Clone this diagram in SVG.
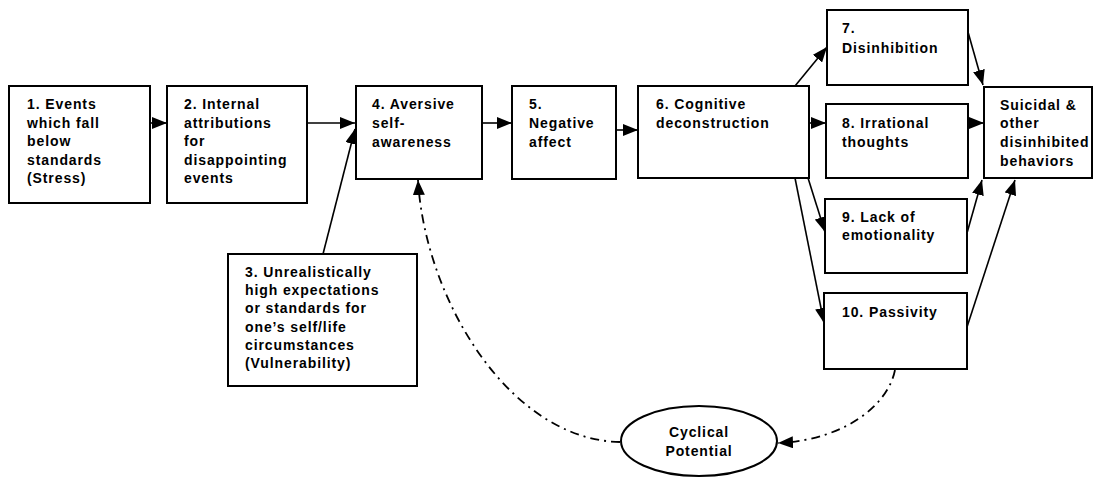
<svg xmlns="http://www.w3.org/2000/svg" width="1098" height="478" viewBox="0 0 1098 478">
<style>
.box{fill:#fff;stroke:#000;stroke-width:2}
.t{font-family:"Liberation Sans",Arial,sans-serif;font-weight:bold;font-size:14px;letter-spacing:0.9px;fill:#000}
.c{stroke:#000;stroke-width:1.6;fill:none}
.dd{stroke:#000;stroke-width:1.8;fill:none;stroke-dasharray:9 5 2 5}
</style>
<defs>
<marker id="ah" markerUnits="userSpaceOnUse" markerWidth="16" markerHeight="12" viewBox="0 0 16 12" refX="15" refY="6" orient="auto">
<path d="M0,0 L15,6 L0,12 Z" fill="#000"/>
</marker>
</defs>
<rect width="1098" height="478" fill="#fff"/>
<g id="connectors">
<line class="c" x1="150" y1="123" x2="167" y2="123" marker-end="url(#ah)"/>
<line class="c" x1="307" y1="123" x2="355" y2="123" marker-end="url(#ah)"/>
<line class="c" x1="323" y1="254" x2="355" y2="129" marker-end="url(#ah)"/>
<line class="c" x1="482" y1="123" x2="512" y2="123" marker-end="url(#ah)"/>
<line class="c" x1="616" y1="130" x2="638" y2="130" marker-end="url(#ah)"/>
<line class="c" x1="795" y1="86" x2="827" y2="47" marker-end="url(#ah)"/>
<line class="c" x1="809" y1="123" x2="826" y2="123" marker-end="url(#ah)"/>
<line class="c" x1="808" y1="178" x2="825" y2="232" marker-end="url(#ah)"/>
<line class="c" x1="795" y1="178" x2="824" y2="323" marker-end="url(#ah)"/>
<line class="c" x1="968" y1="32" x2="983" y2="85" marker-end="url(#ah)"/>
<line class="c" x1="968" y1="123" x2="984" y2="123" marker-end="url(#ah)"/>
<line class="c" x1="967" y1="233" x2="982" y2="180" marker-end="url(#ah)"/>
<line class="c" x1="967" y1="327" x2="1015" y2="180" marker-end="url(#ah)"/>
<path class="dd" d="M895,370 C888,405 845,440 778,443" marker-end="url(#ah)"/>
<path class="dd" d="M620,442 C510,440 425,300 418,180" marker-end="url(#ah)"/>
</g>
<g id="n1"><rect class="box" x="9" y="86" width="141" height="117"/>
<text class="t"><tspan x="27" y="109">1. Events</tspan><tspan x="27" y="128">which fall</tspan><tspan x="27" y="146">below</tspan><tspan x="27" y="165">standards</tspan><tspan x="27" y="183">(Stress)</tspan></text></g>
<g id="n2"><rect class="box" x="167" y="86" width="140" height="117"/>
<text class="t"><tspan x="184" y="109">2. Internal</tspan><tspan x="184" y="128">attributions</tspan><tspan x="184" y="146">for</tspan><tspan x="184" y="165">disappointing</tspan><tspan x="184" y="183">events</tspan></text></g>
<g id="n3"><rect class="box" x="228" y="254" width="189" height="132"/>
<text class="t"><tspan x="245" y="277">3. Unrealistically</tspan><tspan x="245" y="295">high expectations</tspan><tspan x="245" y="313">or standards for</tspan><tspan x="245" y="332">one’s self/life</tspan><tspan x="245" y="350">circumstances</tspan><tspan x="245" y="368">(Vulnerability)</tspan></text></g>
<g id="n4"><rect class="box" x="356" y="86" width="126" height="93"/>
<text class="t"><tspan x="372" y="109">4. Aversive</tspan><tspan x="372" y="128">self-</tspan><tspan x="372" y="147">awareness</tspan></text></g>
<g id="n5"><rect class="box" x="512" y="86" width="104" height="93"/>
<text class="t"><tspan x="529" y="109">5.</tspan><tspan x="529" y="128">Negative</tspan><tspan x="529" y="147">affect</tspan></text></g>
<g id="n6"><rect class="box" x="638" y="86" width="171" height="92"/>
<text class="t"><tspan x="656" y="109">6. Cognitive</tspan><tspan x="656" y="128">deconstruction</tspan></text></g>
<g id="n7"><rect class="box" x="827" y="10" width="141" height="75"/>
<text class="t"><tspan x="842" y="33">7.</tspan><tspan x="842" y="53">Disinhibition</tspan></text></g>
<g id="n8"><rect class="box" x="826" y="104" width="142" height="74"/>
<text class="t"><tspan x="842" y="128">8. Irrational</tspan><tspan x="842" y="147">thoughts</tspan></text></g>
<g id="n9"><rect class="box" x="825" y="199" width="142" height="74"/>
<text class="t"><tspan x="842" y="222">9. Lack of</tspan><tspan x="842" y="240">emotionality</tspan></text></g>
<g id="n10"><rect class="box" x="824" y="293" width="143" height="76"/>
<text class="t"><tspan x="842" y="317">10. Passivity</tspan></text></g>
<g id="n11"><rect class="box" x="984" y="87" width="108" height="91"/>
<text class="t"><tspan x="1000" y="110">Suicidal &amp;</tspan><tspan x="1000" y="128">other</tspan><tspan x="1000" y="147">disinhibited</tspan><tspan x="1000" y="166">behaviors</tspan></text></g>
<g id="n12"><ellipse class="box" cx="699" cy="441" rx="78" ry="35"/>
<text class="t" text-anchor="middle"><tspan x="699" y="437">Cyclical</tspan><tspan x="699" y="456">Potential</tspan></text></g>
</svg>
